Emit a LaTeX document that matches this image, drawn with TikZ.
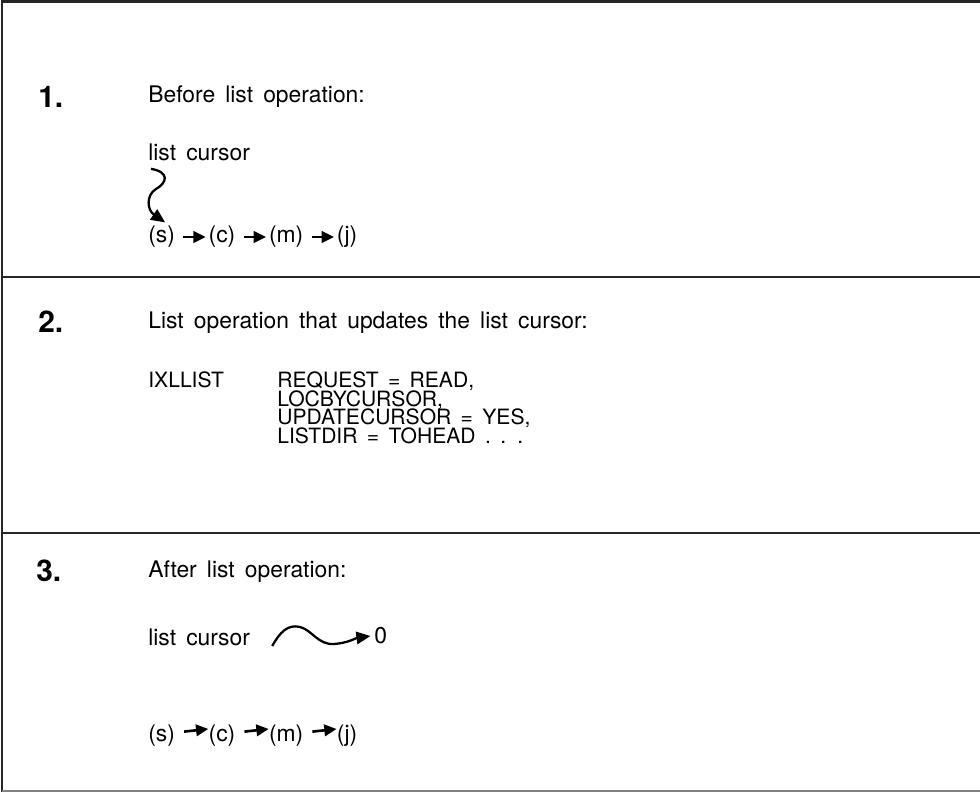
\documentclass[tikz,border=0pt]{standalone}
\usepackage{fontspec}
\setmainfont{TeX Gyre Heros}[WordSpace=1.6]
\usetikzlibrary{positioning,arrows.meta}

\begin{document}
\begin{tikzpicture}[
    x=0.02cm, y=-0.02cm,
    node distance=0.2cm and 0.66cm,
    rule/.style={line width=1.7pt, color=black!85},
    num/.style={font=\fontsize{17}{18}\selectfont\bfseries, anchor=west, inner sep=0pt},
    txt/.style={font=\fontsize{13}{15}\selectfont, anchor=west, inner sep=0pt},
    code/.style={font=\fontsize{12}{12}\selectfont, anchor=base west, inner sep=0pt},
    link/.style={-{Triangle[length=7pt,width=6.5pt]}, line width=1.5pt},
    curs/.style={-{Triangle[length=8pt,width=7pt]}, line width=1.3pt}
  ]
    \useasboundingbox (0,0) rectangle (980,793);

    % frame and dividers
    \draw[rule] (980,2) -- (2,2) -- (2,792);
    \draw[rule, color=black!50] (2,791) -- (980,791);
    \draw[rule] (2,277) -- (980,277);
    \draw[rule] (2,533) -- (980,533);

    % 1.
    \node[num] (num1) at (38,97) {1.};
    \node[txt] (head1) at (148,97) {Before list operation:};
    \node[txt] (cur1) at (148,152) {list cursor};
    \node[txt] (s1) at (148,237) {(s)};
    \node[txt, right=of s1] (c1) {(c)};
    \node[txt, right=of c1] (m1) {(m)};
    \node[txt, right=of m1] (j1) {(j)};

    \draw[link] ([xshift=4.5pt]s1.east) -- ([xshift=-1.5pt]c1.west);
    \draw[link] ([xshift=4.5pt]c1.east) -- ([xshift=-1.5pt]m1.west);
    \draw[link] ([xshift=4.5pt]m1.east) -- ([xshift=-1.5pt]j1.west);
    \draw[curs] ([shift={(3,8)}]cur1.south west)
        .. controls (170,172) and (167,183) .. (156,189)
        .. controls (146,195) and (147,210) .. ([xshift=2pt,yshift=2pt]s1.north);

    % 2.
    \node[num] (num2) at (38,322) {2.};
    \node[txt] (head2) at (148,323) {List operation that updates the list cursor:};
    \node[code] (macro) at (148,388) {IXLLIST};
    \node[code] (parm1) at (277,388) {REQUEST = READ,};
    \node[code] (parm2) at ([yshift=-10.5pt]parm1.base west) {LOCBYCURSOR,};
    \node[code] (parm3) at ([yshift=-10.5pt]parm2.base west) {UPDATECURSOR = YES,};
    \node[code] (parm4) at ([yshift=-10.5pt]parm3.base west) {LISTDIR = TOHEAD . . .};

    % 3.
    \node[num] (num3) at (36,571) {3.};
    \node[txt] (head3) at (148,572) {After list operation:};
    \node[txt] (cur3) at (148,637) {list cursor};
    \node[txt] (zero) at (374,636) {0};
    \node[txt] (s3) at (148,736) {(s)};
    \node[txt, right=of s3] (c3) {(c)};
    \node[txt, right=of c3] (m3) {(m)};
    \node[txt, right=of m3] (j3) {(j)};

    \draw[link] ([xshift=5pt,yshift=2.5pt]s3.east) -- ([yshift=4pt]c3.west);
    \draw[link] ([xshift=5pt,yshift=2.5pt]c3.east) -- ([yshift=4pt]m3.west);
    \draw[link] ([xshift=5pt,yshift=2.5pt]m3.east) -- ([yshift=4pt]j3.west);
    \draw[curs] ([shift={(22,9)}]cur3.east)
        .. controls (280,632) and (288,624) .. (300,627)
        .. controls (312,630) and (318,645) .. (334,644)
        .. controls (348,643) and (356,638) .. ([xshift=-2pt]zero.west);
  \end{tikzpicture}
\end{document}
